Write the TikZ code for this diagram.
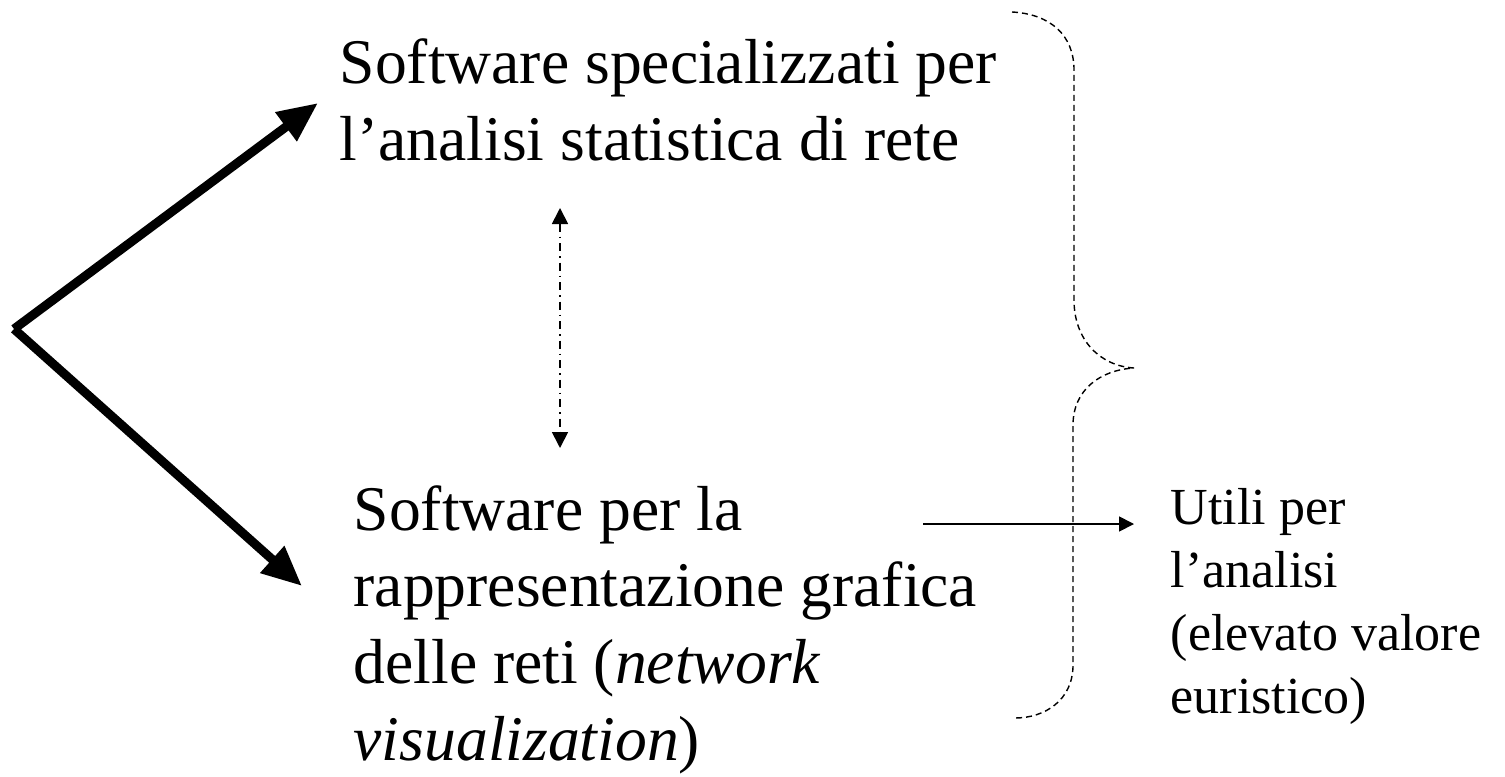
\documentclass[tikz,border=0pt]{standalone}
\usepackage{fontspec}
\setmainfont{Liberation Serif}
\usetikzlibrary{arrows.meta,positioning}

\begin{document}
\begin{tikzpicture}[scale=1.0,>=Latex,
    bigtext/.style={anchor=base west,inner sep=0,align=left,font=\fontsize{18.1}{21.8}\selectfont},
    smalltext/.style={anchor=base west,inner sep=0,align=left,font=\fontsize{14.8}{17.9}\selectfont},
    thick arrow/.style={line width=0.09cm,-{Triangle[length=0.4cm,width=0.34cm]}},
    link/.style={line width=0.5pt,dash pattern=on 0.08cm off 0.05cm on 0.015cm off 0.05cm,
      {Triangle[length=0.16cm,width=0.16cm]}-{Triangle[length=0.16cm,width=0.16cm]}},
    brace/.style={line width=0.4pt,dash pattern=on 0.06cm off 0.04cm}]
  \useasboundingbox (0,0) rectangle (15.05,7.76);
  \node[bigtext] (stat) at (3.39,6.16) {Software specializzati per\\l’analisi statistica di rete};
  \node[bigtext] (vis) at (3.53,0.16) {Software per la\\rappresentazione grafica\\delle reti (\textit{network}\\\textit{visualization})};
  \node[smalltext] (utili) at (11.70,0.63) {Utili per\\l’analisi\\(elevato valore\\euristico)};
  \coordinate (v) at (0.14,4.47);
  \coordinate (statin) at (3.18,6.73);
  \coordinate (visin) at (3.02,1.90);
  \coordinate (linktop) at (5.60,5.68);
  \coordinate (linkbot) at (5.60,3.28);
  \coordinate (from) at (9.23,2.52);
  \coordinate (to) at (11.34,2.52);
  \draw[thick arrow] (v) -- (statin);
  \draw[thick arrow] (v) -- (visin);
  \draw[link] (linktop) -- (linkbot);
  \draw[line width=0.5pt,-{Triangle[length=0.15cm,width=0.15cm]}] (from) -- (to);
  \draw[brace] (10.12,7.64) .. controls (10.50,7.62) and (10.74,7.41) .. (10.74,7.06) -- (10.74,4.76)
    .. controls (10.74,4.36) and (11.00,4.10) .. (11.34,4.08)
    .. controls (11.00,4.06) and (10.73,3.86) .. (10.73,3.51) -- (10.73,1.11)
    .. controls (10.73,0.76) and (10.45,0.58) .. (10.15,0.58);
\end{tikzpicture}
\end{document}
